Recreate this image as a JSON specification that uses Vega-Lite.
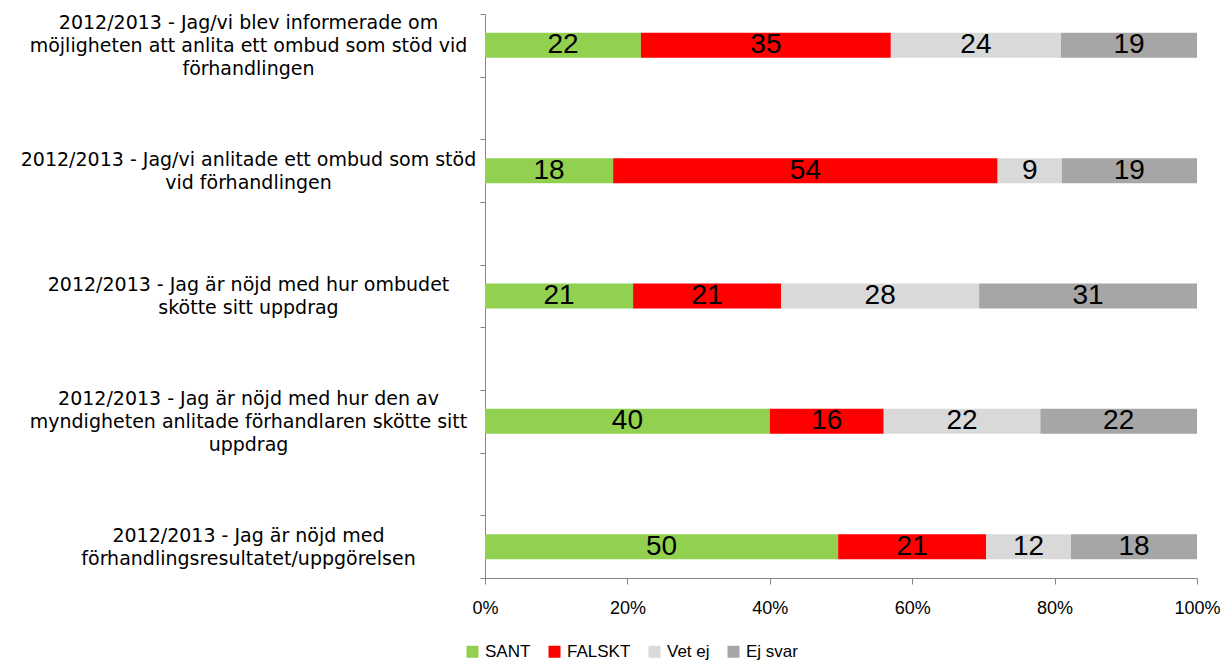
{
  "$schema": "https://vega.github.io/schema/vega-lite/v6.json",
  "width": 712,
  "height": 564,
  "autosize": {"type": "none"},
  "padding": {"left": 485, "top": 14, "right": 28, "bottom": 84},
  "background": "white",
  "config": {"view": {"stroke": null}, "font": "Liberation Sans"},
  "data": {
    "values": [
      {"q": "2012/2013 - Jag/vi blev informerade om|möjligheten att anlita ett ombud som stöd vid|förhandlingen", "svar": "SANT", "k": 1, "pct": 21.9},
      {"q": "2012/2013 - Jag/vi blev informerade om|möjligheten att anlita ett ombud som stöd vid|förhandlingen", "svar": "FALSKT", "k": 2, "pct": 35.1},
      {"q": "2012/2013 - Jag/vi blev informerade om|möjligheten att anlita ett ombud som stöd vid|förhandlingen", "svar": "Vet ej", "k": 3, "pct": 23.9},
      {"q": "2012/2013 - Jag/vi blev informerade om|möjligheten att anlita ett ombud som stöd vid|förhandlingen", "svar": "Ej svar", "k": 4, "pct": 19.1},
      {"q": "2012/2013 - Jag/vi anlitade ett ombud som stöd|vid förhandlingen", "svar": "SANT", "k": 1, "pct": 18.0},
      {"q": "2012/2013 - Jag/vi anlitade ett ombud som stöd|vid förhandlingen", "svar": "FALSKT", "k": 2, "pct": 54.0},
      {"q": "2012/2013 - Jag/vi anlitade ett ombud som stöd|vid förhandlingen", "svar": "Vet ej", "k": 3, "pct": 9.0},
      {"q": "2012/2013 - Jag/vi anlitade ett ombud som stöd|vid förhandlingen", "svar": "Ej svar", "k": 4, "pct": 19.0},
      {"q": "2012/2013 - Jag är nöjd med hur ombudet|skötte sitt uppdrag", "svar": "SANT", "k": 1, "pct": 20.8},
      {"q": "2012/2013 - Jag är nöjd med hur ombudet|skötte sitt uppdrag", "svar": "FALSKT", "k": 2, "pct": 20.8},
      {"q": "2012/2013 - Jag är nöjd med hur ombudet|skötte sitt uppdrag", "svar": "Vet ej", "k": 3, "pct": 27.8},
      {"q": "2012/2013 - Jag är nöjd med hur ombudet|skötte sitt uppdrag", "svar": "Ej svar", "k": 4, "pct": 30.6},
      {"q": "2012/2013 - Jag är nöjd med hur den av|myndigheten anlitade förhandlaren skötte sitt|uppdrag", "svar": "SANT", "k": 1, "pct": 40.0},
      {"q": "2012/2013 - Jag är nöjd med hur den av|myndigheten anlitade förhandlaren skötte sitt|uppdrag", "svar": "FALSKT", "k": 2, "pct": 16.0},
      {"q": "2012/2013 - Jag är nöjd med hur den av|myndigheten anlitade förhandlaren skötte sitt|uppdrag", "svar": "Vet ej", "k": 3, "pct": 22.0},
      {"q": "2012/2013 - Jag är nöjd med hur den av|myndigheten anlitade förhandlaren skötte sitt|uppdrag", "svar": "Ej svar", "k": 4, "pct": 22.0},
      {"q": "2012/2013 - Jag är nöjd med|förhandlingsresultatet/uppgörelsen", "svar": "SANT", "k": 1, "pct": 49.6},
      {"q": "2012/2013 - Jag är nöjd med|förhandlingsresultatet/uppgörelsen", "svar": "FALSKT", "k": 2, "pct": 20.8},
      {"q": "2012/2013 - Jag är nöjd med|förhandlingsresultatet/uppgörelsen", "svar": "Vet ej", "k": 3, "pct": 11.9},
      {"q": "2012/2013 - Jag är nöjd med|förhandlingsresultatet/uppgörelsen", "svar": "Ej svar", "k": 4, "pct": 17.7}
    ]
  },
  "encoding": {
    "y": {
      "field": "q",
      "type": "nominal",
      "title": null,
      "scale": {
        "domain": [
          "2012/2013 - Jag/vi blev informerade om|möjligheten att anlita ett ombud som stöd vid|förhandlingen",
          " ",
          "2012/2013 - Jag/vi anlitade ett ombud som stöd|vid förhandlingen",
          "  ",
          "2012/2013 - Jag är nöjd med hur ombudet|skötte sitt uppdrag",
          "   ",
          "2012/2013 - Jag är nöjd med hur den av|myndigheten anlitade förhandlaren skötte sitt|uppdrag",
          "    ",
          "2012/2013 - Jag är nöjd med|förhandlingsresultatet/uppgörelsen"
        ],
        "paddingInner": 0,
        "paddingOuter": 0
      },
      "axis": {
        "tickBand": "extent",
        "domainColor": "#868686",
        "tickColor": "#868686",
        "tickSize": 5,
        "labelAlign": "center",
        "labelBaseline": "middle",
        "labelPadding": 232,
        "labelOffset": {
          "condition": {"test": "length(split(datum.value, '|')) == 3", "value": -23},
          "value": -11.5
        },
        "labelFont": "DejaVu Sans",
        "labelFontSize": 19,
        "labelLineHeight": 23,
        "labelColor": "black",
        "labelLimit": 600,
        "labelExpr": "split(datum.label, '|')"
      }
    },
    "x": {
      "field": "pct",
      "type": "quantitative",
      "stack": "normalize",
      "title": null,
      "axis": {
        "format": ".0%",
        "values": [0, 0.2, 0.4, 0.6, 0.8, 1],
        "grid": false,
        "tickSize": 6,
        "domainColor": "#868686",
        "tickColor": "#868686",
        "labelFont": "Liberation Sans",
        "labelFontSize": 18,
        "labelColor": "black",
        "labelPadding": 15,
        "labelFlush": false,
        "labelOverlap": false
      }
    },
    "order": {"field": "k", "type": "quantitative"}
  },
  "layer": [
    {
      "mark": {"type": "bar", "height": {"band": 0.4}},
      "encoding": {
        "color": {
          "field": "svar",
          "type": "nominal",
          "scale": {
            "domain": ["SANT", "FALSKT", "Vet ej", "Ej svar"],
            "range": ["#92D050", "#FF0000", "#D9D9D9", "#A6A6A6"]
          },
          "legend": {
            "orient": "none",
            "legendX": -21,
            "legendY": 629,
            "direction": "horizontal",
            "title": null,
            "symbolType": "square",
            "symbolSize": 144,
            "symbolStrokeWidth": 0,
            "labelFont": "Liberation Sans",
            "labelFontSize": 17,
            "labelColor": "black",
            "labelOffset": 4,
            "columnPadding": 15
          }
        }
      }
    },
    {
      "mark": {"type": "text", "font": "Liberation Sans", "fontSize": 28, "color": "black", "baseline": "middle", "align": "center"},
      "encoding": {
        "x": {"field": "pct", "type": "quantitative", "stack": "normalize", "bandPosition": 0.5},
        "detail": {"field": "svar"},
        "text": {"field": "pct", "type": "quantitative", "format": ".0f"}
      }
    }
  ]
}
